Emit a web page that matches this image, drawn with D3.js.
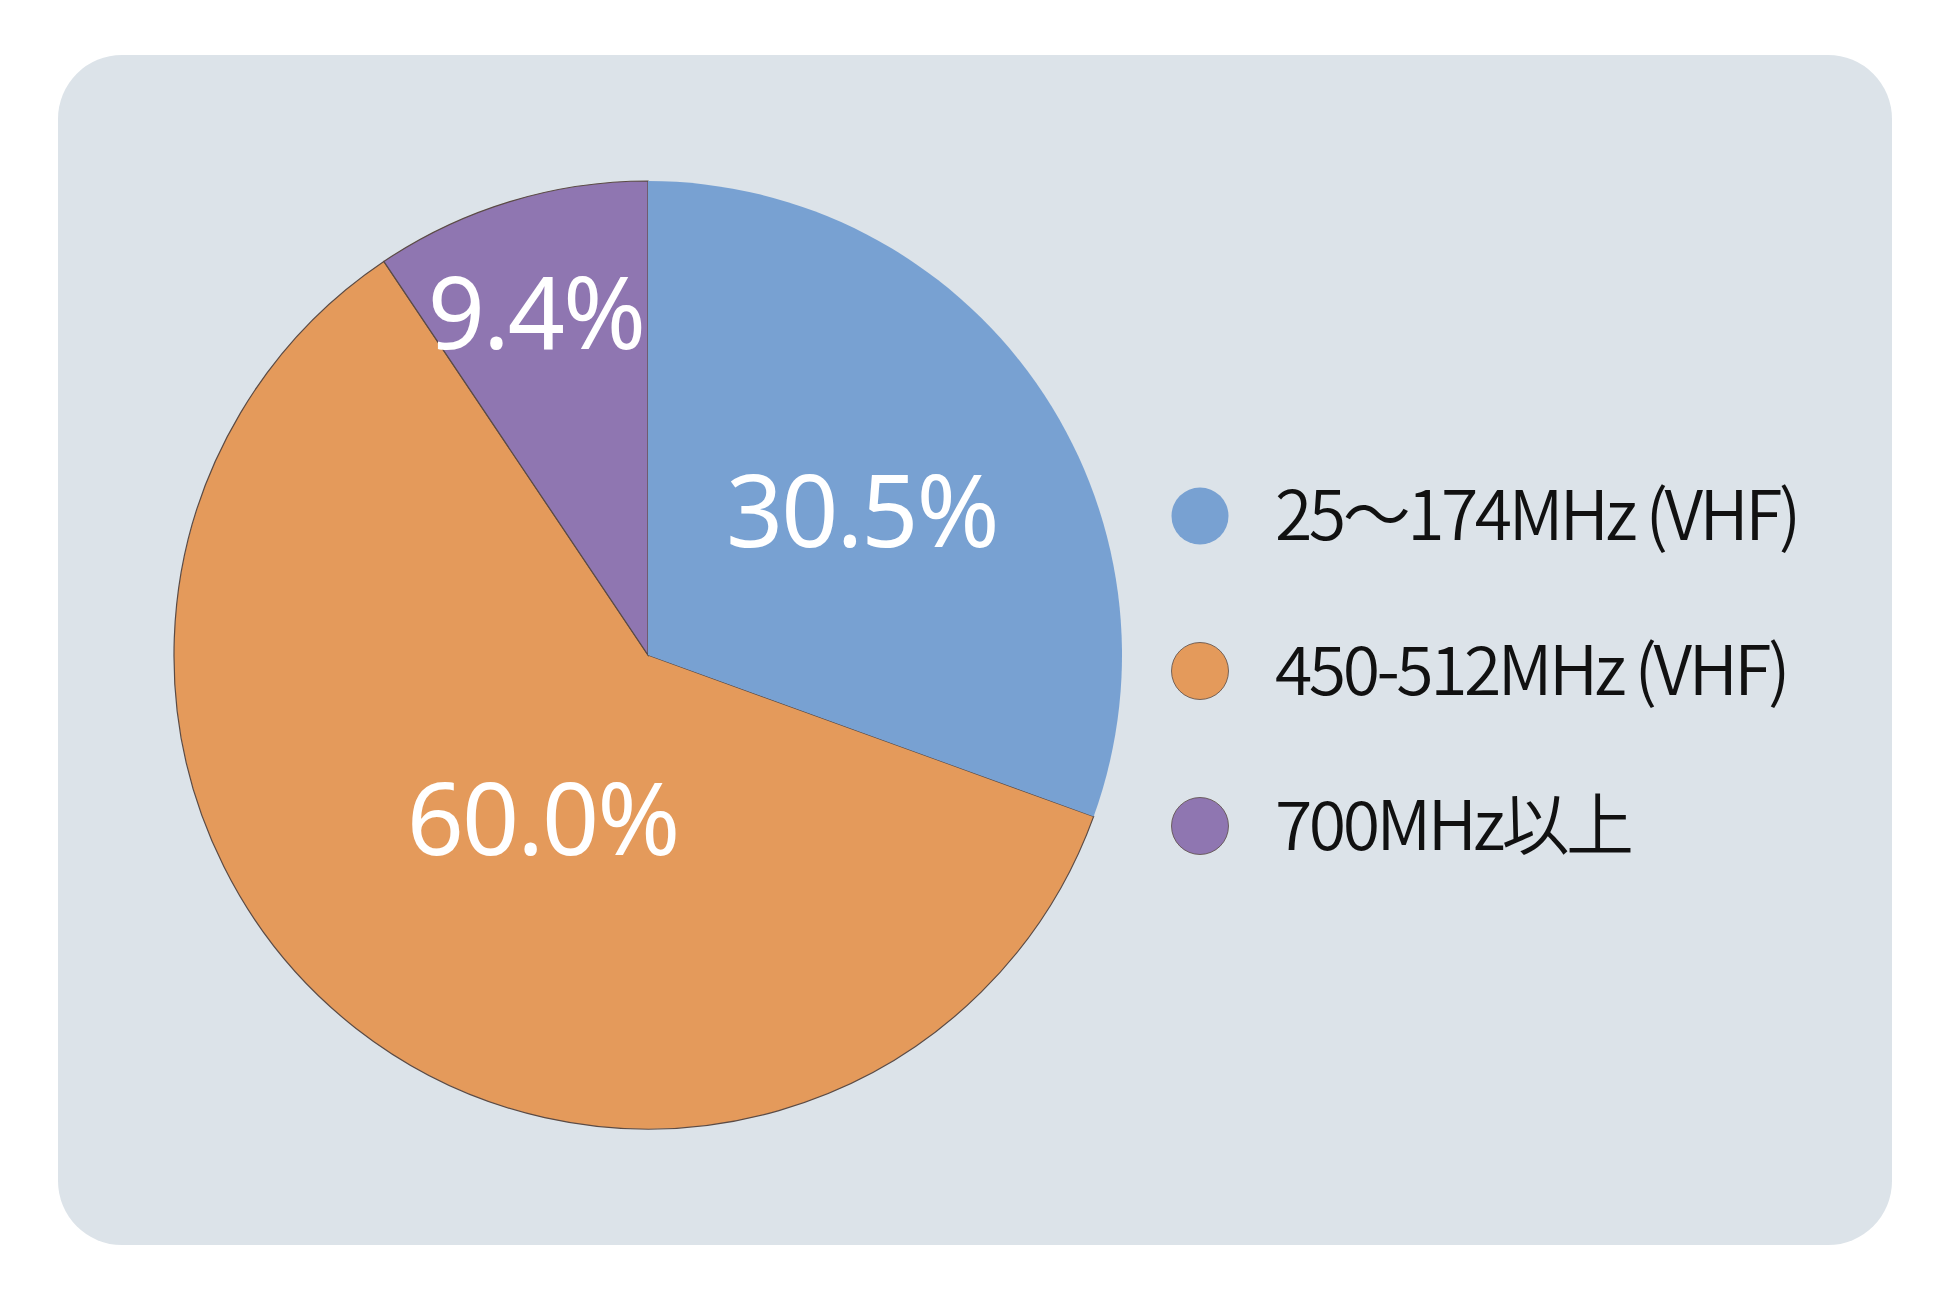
<!DOCTYPE html>
<html>
<head>
<meta charset="utf-8">
<script src="https://cdn.jsdelivr.net/npm/d3@7"></script>
<style>
  html, body { margin: 0; padding: 0; background: #fff; }
  svg { display: block; }
</style>
</head>
<body>
<svg id="chart" width="1950" height="1300"></svg>
<script>
// data
const bands = ['25〜174MHz (VHF)', '450-512MHz (VHF)', '700MHz以上'];
const shares = [30.5, 60.0, 9.4];
const valueLabels = ['30.5%', '60.0%', '9.4%'];

const colours = ['#78a1d2', '#e49a5b', '#8f76b1'];
// label placement: radius from centre and a small turn off the slice middle (degrees)
const labelRadius = [258, 195, 360];
const labelTurn = [1, -5.3, -1.2];

const svg = d3.select('#chart');

// panel
svg.append('rect')
   .attr('x', 58)
   .attr('y', 55)
   .attr('width', 1834)
   .attr('height', 1190)
   .attr('rx', 64)
   .attr('ry', 64)
   .attr('fill', '#dce3e9');

const cx = 648, cy = 655, radius = 474;

const pie = d3.pie().sort(null).value((d) => d.value);
const rows = bands.map((b, i) => ({ band: b, value: shares[i], label: valueLabels[i], i: i }));
const arcs = pie(rows);

const arc = d3.arc().innerRadius(0).outerRadius(radius);

const g = svg.append('g').attr('transform', `translate(${cx}, ${cy})`);

// orange and purple carry a thin outline, blue goes on top without one
const drawOrder = [1, 2, 0];
g.selectAll('path.slice')
 .data(drawOrder.map((k) => arcs[k]))
 .enter()
 .append('path')
 .attr('class', 'slice')
 .attr('d', arc)
 .attr('fill', (d) => colours[d.data.i])
 .attr('stroke', (d) => d.data.i === 0 ? 'none' : '#5b4b45')
 .attr('stroke-width', 1.2);

g.selectAll('text.pct')
 .data(arcs)
 .enter()
 .append('text')
 .attr('class', 'pct')
 .attr('transform', (d) => {
     const a = (d.startAngle + d.endAngle) / 2 + labelTurn[d.data.i] * Math.PI / 180;
     const r = labelRadius[d.data.i];
     return `translate(${r * Math.sin(a)}, ${-r * Math.cos(a)})`;
 })
 .attr('dy', '0.36em')
 .attr('text-anchor', 'middle')
 .attr('fill', '#ffffff')
 .attr('font-family', '"Noto Sans", sans-serif')
 .attr('font-size', 100)
 .attr('letter-spacing', -2)
 .text((d) => d.data.label);

// legend
const legendY = d3.scalePoint().domain(bands).range([516, 826]);

const item = svg.append('g')
    .selectAll('g.item')
    .data(rows)
    .enter()
    .append('g')
    .attr('class', 'item')
    .attr('transform', (d) => `translate(1200, ${legendY(d.band)})`);

item.append('circle')
    .attr('r', 28.5)
    .attr('fill', (d) => colours[d.i])
    .attr('stroke', (d) => d.i === 0 ? 'none' : '#5b4b45')
    .attr('stroke-width', 0.8);

item.append('text')
    .attr('x', 75)
    .attr('dy', '0.36em')
    .attr('fill', '#111')
    .attr('font-family', '"Noto Sans CJK JP", sans-serif')
    .attr('font-weight', 350)
    .attr('font-size', 68)
    .attr('letter-spacing', -3.5)
    .text((d) => d.band);
</script>
</body>
</html>
